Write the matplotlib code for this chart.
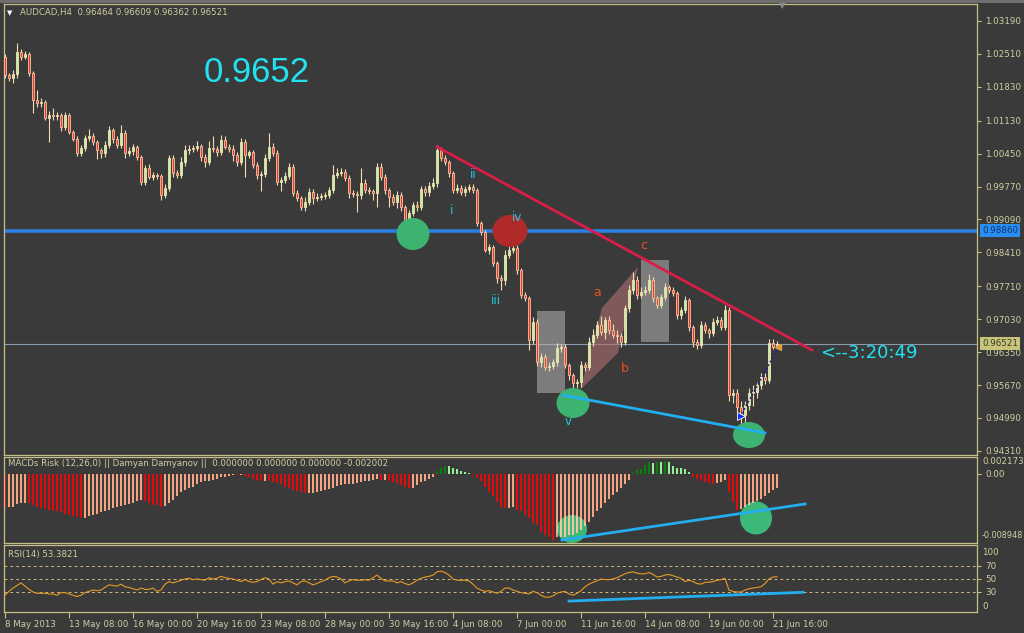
import matplotlib
matplotlib.use("Agg")
import matplotlib.pyplot as plt
import matplotlib.transforms as mtransforms
from matplotlib.patches import Ellipse, Rectangle, Polygon
import numpy as np

# ---- data ----
first_open = 1.0245
closes = [
    1.0208, 1.0201, 1.0210, 1.0255, 1.0245, 1.0251, 1.0212, 1.0156, 1.0150, 1.0152,
    1.0119, 1.0125, 1.0123, 1.0125, 1.0100, 1.0125, 1.0090, 1.0075, 1.0046, 1.0057,
    1.0077, 1.0081, 1.0069, 1.0053, 1.0046, 1.0063, 1.0094, 1.0075, 1.0063, 1.0088,
    1.0046, 1.0050, 1.0059, 1.0038, 0.9986, 1.0015, 0.9997, 1.0001, 0.9999, 0.9960,
    0.9974, 1.0036, 1.0005, 1.0001, 1.0028, 1.0053, 1.0055, 1.0057, 1.0061, 1.0038,
    1.0028, 1.0057, 1.0055, 1.0048, 1.0073, 1.0059, 1.0055, 1.0042, 1.0028, 1.0069,
    1.0042, 1.0048, 1.0022, 1.0001, 1.0003, 1.0036, 1.0059, 1.0046, 0.9986, 0.9991,
    0.9999, 1.0017, 0.9964, 0.9953, 0.9935, 0.9945, 0.9966, 0.9953, 0.9955, 0.9957,
    0.9960, 0.9970, 1.0001, 1.0005, 1.0007, 0.9995, 0.9964, 0.9962, 0.9960, 0.9984,
    0.9970, 0.9968, 0.9964, 1.0017, 0.9997, 0.9970, 0.9955, 0.9945, 0.9960, 0.9935,
    0.9891, 0.9922, 0.9939, 0.9935, 0.9972, 0.9966, 0.9978, 0.9984, 1.0053, 1.0036,
    1.0028, 1.0005, 0.9970, 0.9974, 0.9966, 0.9972, 0.9976, 0.9970, 0.9902, 0.9883,
    0.9846, 0.9852, 0.9819, 0.9788, 0.9784, 0.9836, 0.9846, 0.9850, 0.9805, 0.9753,
    0.9747, 0.9660, 0.9697, 0.9615, 0.9625, 0.9604, 0.9606, 0.9615, 0.9643, 0.9646,
    0.9608, 0.9588, 0.9571, 0.9573, 0.9608, 0.9604, 0.9656, 0.9670, 0.9691, 0.9677,
    0.9701, 0.9681, 0.9670, 0.9668, 0.9656, 0.9726, 0.9763, 0.9784, 0.9753, 0.9759,
    0.9763, 0.9784, 0.9747, 0.9732, 0.9749, 0.9770, 0.9763, 0.9757, 0.9712, 0.9722,
    0.9743, 0.9687, 0.9656, 0.9650, 0.9691, 0.9681, 0.9674, 0.9697, 0.9701, 0.9687,
    0.9722, 0.9546, 0.9550, 0.9522, 0.9505, 0.9526, 0.9550, 0.9553, 0.9567, 0.9583,
    0.9577, 0.9654, 0.96464, 0.96521,
]
# wick lengths above / below the body, in pips
wick_up = [
    6, 4, 8, 18, 6, 6, 4, 4, 20, 8, 4, 8, 14, 6, 4, 6, 4, 4, 6, 6,
    6, 14, 6, 4, 4, 8, 8, 4, 6, 16, 6, 8, 6, 4, 4, 6, 8, 6, 4, 4,
    8, 6, 6, 6, 10, 10, 8, 6, 10, 4, 6, 14, 24, 6, 10, 8, 6, 8, 6, 8,
    6, 4, 4, 6, 6, 8, 28, 8, 6, 6, 8, 8, 6, 6, 4, 10, 8, 6, 8, 6,
    6, 6, 20, 10, 8, 6, 6, 6, 6, 32, 8, 6, 4, 8, 8, 6, 4, 6, 8, 6,
    4, 6, 6, 8, 6, 6, 8, 10, 10, 6, 6, 4, 4, 8, 6, 6, 6, 6, 4, 4,
    4, 6, 4, 4, 6, 10, 20, 8, 6, 4, 6, 4, 10, 6, 8, 6, 8, 6, 10, 6,
    6, 4, 4, 6, 8, 6, 10, 12, 8, 18, 6, 8, 12, 10, 6, 6, 10, 16, 8, 10,
    8, 12, 6, 4, 6, 8, 4, 6, 4, 6, 8, 4, 4, 6, 8, 6, 4, 8, 8, 6,
    10, 6, 8, 8, 12, 8, 10, 14, 6, 8, 8, 8, 8, 6,
]
wick_dn = [
    6, 6, 10, 8, 6, 4, 6, 27, 8, 8, 4, 50, 8, 8, 8, 6, 4, 4, 6, 6,
    6, 6, 6, 20, 10, 8, 6, 8, 6, 6, 10, 6, 8, 6, 6, 6, 4, 6, 6, 10,
    6, 6, 8, 6, 6, 8, 8, 6, 6, 8, 10, 6, 6, 8, 6, 4, 6, 12, 8, 6,
    45, 6, 6, 8, 33, 6, 6, 6, 6, 18, 6, 6, 6, 6, 6, 8, 6, 12, 6, 6,
    6, 6, 6, 6, 6, 6, 10, 6, 35, 8, 6, 6, 14, 30, 6, 8, 20, 6, 12, 8,
    6, 12, 6, 8, 6, 8, 8, 6, 8, 6, 6, 8, 6, 6, 6, 8, 6, 6, 6, 6,
    4, 8, 6, 10, 20, 10, 6, 6, 8, 6, 6, 20, 8, 8, 10, 6, 8, 6, 8, 8,
    6, 10, 18, 10, 10, 8, 6, 8, 6, 6, 14, 8, 6, 14, 10, 6, 8, 8, 8, 6,
    6, 6, 8, 6, 6, 6, 6, 6, 8, 8, 6, 8, 10, 8, 6, 6, 10, 6, 6, 6,
    6, 12, 16, 10, 20, 20, 10, 26, 12, 8, 8, 6, 6, 6,
]
# MACDs Risk histogram, units of 1e-4
macd = [
    -50, -49, -48, -44, -42, -42, -43, -45, -48, -50,
    -51, -53, -54, -55, -56, -58, -60, -61, -63, -64,
    -64, -62, -60, -58, -56, -55, -53, -50, -48, -47,
    -45, -44, -42, -40, -38, -40, -43, -45, -46, -48,
    -47, -42, -38, -33, -27, -23, -20, -19, -15, -12,
    -11, -10, -9, -7, -5, -4, -2.5, -1.5, -2, -1.5,
    -3, -5, -7, -9, -10, -10, -11, -12, -13, -15,
    -19, -21, -23, -25, -27, -28, -28, -28, -27, -25,
    -24, -22, -20, -17, -16, -15, -15, -14, -13, -12,
    -11, -10, -9, -8, -9, -9, -10, -12, -14, -16,
    -19, -21, -20, -16, -12, -10, -7, -4, 5, 9,
    12, 11, 9, 7, 5, 3, 2, -1, -6, -11,
    -19, -26, -33, -41, -48, -50, -50, -48, -53, -55,
    -60, -65, -72, -75, -85, -89, -92, -97, -93, -92,
    -92, -89, -89, -87, -82, -77, -70, -63, -55, -50,
    -43, -36, -31, -26, -21, -14, -9, 1, 6, 8,
    13, 17, 16, 17, 17, 19, 18, 11, 9, 9,
    7, 3, -5, -7, -10, -12, -13, -14, -13, -12,
    -9, -26, -41, -53, -52, -49, -46, -43, -40, -36,
    -33, -28, -24, -21,
]
rsi = [
    25, 31, 36, 40, 44, 39, 34, 30, 28, 28,
    28, 27, 27, 25, 29, 29, 27, 25, 23, 25,
    29, 31, 33, 32, 33, 37, 41, 40, 39, 42,
    38, 37, 35, 33, 36, 34, 34, 36, 31, 33,
    42, 46, 44, 46, 48, 50, 51, 49, 50, 49,
    48, 52, 50, 51, 54, 52, 51, 50, 48, 46,
    49, 46, 45, 46, 49, 52, 50, 42, 46, 44,
    46, 47, 44, 41, 46, 47, 44, 41, 43, 46,
    48, 52, 54, 53, 50, 44, 47, 49, 48, 48,
    49, 48, 52, 56, 51, 47, 47, 47, 44, 46,
    43, 41, 44, 48, 51, 53, 54, 56, 61, 62,
    60, 56, 50, 48, 48, 48, 47, 42, 36, 33,
    31, 32, 30, 28, 31, 36, 36, 33, 31, 29,
    28, 27, 31, 29, 25, 22, 22, 24, 28, 30,
    31, 27, 25, 28, 32, 38, 42, 45, 47, 50,
    49, 49, 50, 52, 55, 58, 60, 61, 59, 58,
    58, 60, 57, 53, 54, 56, 57, 55, 53, 51,
    46, 48, 46, 43, 42, 45, 45, 46, 48, 49,
    51, 33, 31, 30, 30, 33, 35, 36, 37, 38,
    43, 50, 53, 53.38,
]
price_ticks = [1.03190, 1.02510, 1.01830, 1.01130, 1.00450, 0.99770, 0.99090,
               0.98410, 0.97710, 0.97030, 0.96350, 0.95670, 0.94990, 0.94310]
date_labels = ["8 May 2013", "13 May 08:00", "16 May 00:00", "20 May 16:00",
               "23 May 08:00", "28 May 00:00", "30 May 16:00", "4 Jun 08:00",
               "7 Jun 00:00", "11 Jun 16:00", "14 Jun 08:00", "19 Jun 00:00",
               "21 Jun 16:00"]
level_line = 0.98860
bid = 0.96521

# ---- colours ----
BG = "#3a3a3a"
FRAME = "#c4c088"
TXT = "#cfcfa2"
CYAN = "#22e2f0"
WAVE = "#22c8e0"
ORANGE = "#e8501e"
FS = 6.3

x = np.arange(len(closes))
closes_a = np.array(closes)
opens = np.array([first_open] + closes[:-1])
highs = np.maximum(opens, closes_a) + np.array(wick_up) * 1e-4
lows = np.minimum(opens, closes_a) - np.array(wick_dn) * 1e-4

fig = plt.figure(figsize=(10.24, 6.33), dpi=100, facecolor=BG)
fig.patches.append(Rectangle((0, 1 - 3 / 633), 1, 3 / 633, transform=fig.transFigure,
                             fc="#6e6e6e", ec="none"))


def panel(top, bottom):
    a = fig.add_axes([4 / 1024, 1 - bottom / 633, 973 / 1024, (bottom - top) / 633])
    a.set_facecolor(BG)
    for s in a.spines.values():
        s.set_color(FRAME)
        s.set_linewidth(0.9)
    a.set_xlim(-0.25, 243)
    a.set_xticks([])
    a.yaxis.tick_right()
    a.tick_params(axis="y", colors=FRAME, labelcolor=TXT, length=3, width=0.8,
                  pad=3, labelsize=FS)
    return a


ax = panel(4, 455)
axm = panel(457, 543)
axr = panel(545, 612)

# ---- main price panel ----
ax.set_ylim(0.94224, 1.03541)
ax.set_yticks(price_ticks)
ax.set_yticklabels([f"{p:.5f}" for p in price_ticks])

ax.axhline(level_line, color="#2a80e0", lw=2.6, zorder=2)
ax.axhline(bid, color="#8a9aae", lw=0.8, zorder=2)

up = closes_a >= opens
ax.vlines(x, lows, highs, color="#f3dcb0", lw=0.8, zorder=4)
body = np.maximum(np.abs(closes_a - opens), 0.00005)
ax.bar(x, body, bottom=np.minimum(opens, closes_a), width=0.74,
       color=np.where(up, "#c6eea0", "#ea3c28"),
       edgecolor=np.where(up, "#f0e6b4", "#f8c4a4"), lw=0.6, zorder=5)

# drawn objects
ax.add_patch(Rectangle((133, 0.95505), 7, 0.01694, fc="#b4b4b4", ec="none", alpha=0.55, zorder=3))
ax.add_patch(Rectangle((159, 0.96558), 7, 0.01694, fc="#b4b4b4", ec="none", alpha=0.55, zorder=3))
ax.add_patch(Polygon([(143.75, 0.95567), (149.25, 0.97261), (158.25, 0.98108), (153.25, 0.96331)],
                     fc="#b07070", ec="none", alpha=0.6, zorder=3))
ax.add_patch(Ellipse((102, 0.98790), 8.25, 0.00661, fc="#3cb371", ec="none", zorder=6))
ax.add_patch(Ellipse((126.25, 0.98852), 8.75, 0.00661, fc="#b02a2a", ec="none", zorder=6))
ax.add_patch(Ellipse((142, 0.95298), 8.25, 0.0062, fc="#3cb371", ec="none", zorder=6))
ax.add_patch(Ellipse((186, 0.94637), 8.0, 0.00537, fc="#3cb371", ec="none", zorder=6))
ax.plot([108, 201.75], [1.0059, 0.9639], color="#d81e48", lw=2.0, zorder=7)
ax.plot([139.5, 190], [0.9546, 0.9468], color="#22aef0", lw=2.0, zorder=7)
ax.plot([183.75, 193.25], [0.95009, 0.96434], color="#1a1ab0", lw=1.2, ls=(0, (1, 1.5)), zorder=7)
ax.plot([184], [0.95030], marker=">", color="#1030ff", ms=6, mec="white", mew=0.6, zorder=8)
ax.plot([193.3], [0.96450], marker="<", color="#e0a040", ms=5, zorder=8)

for t, xx, yy in [("i", 111.75, 0.99285), ("ii", 117, 1.0001), ("iii", 122.75, 0.97426),
                  ("iv", 128, 0.9914), ("v", 140.75, 0.94906)]:
    ax.text(xx, yy, t, color=WAVE, fontsize=8.5, ha="center", va="center", zorder=9)
for t, xx, yy in [("a", 148, 0.97591), ("b", 155, 0.96021), ("c", 159.75, 0.98542)]:
    ax.text(xx, yy, t, color=ORANGE, fontsize=9, ha="center", va="center", zorder=9)

ax.text(203.75, 0.96331, "<--3:20:49", color=CYAN, fontsize=13, ha="left", va="center", zorder=9)

# price boxes on the right scale
tr = mtransforms.blended_transform_factory(ax.transAxes, ax.transData)
ax.text(1.0055, level_line, f"{level_line:.5f}", transform=tr, ha="left", va="center",
        fontsize=FS, color="#0c3470", clip_on=False,
        bbox=dict(boxstyle="square,pad=0.22", fc="#2a8ef0", ec="none"))
ax.text(1.0055, bid, f"{bid:.5f}", transform=tr, ha="left", va="center",
        fontsize=FS, color="#3a3a28", clip_on=False,
        bbox=dict(boxstyle="square,pad=0.22", fc="#c8c47a", ec="none"))

fig.text(10 / 1024, 1 - 13 / 633, "\u25bc", color="white", fontsize=5, ha="center", va="center")
fig.text(20 / 1024, 1 - 13 / 633, "AUDCAD,H4  %.5f %.5f %.5f %.5f" % (0.96464, 0.96609, 0.96362, 0.96521),
         color=TXT, fontsize=6.2, ha="left", va="center")
fig.text(782 / 1024, 1 - 6 / 633, "\u25bc", color="#8c8c8c", fontsize=6, ha="center", va="center")
fig.text(257 / 1024, 1 - 73 / 633, "0.9652", color=CYAN, fontsize=25,
         family="Liberation Sans", ha="center", va="center")

# ---- MACD panel ----
mv = np.array(macd) * 1e-4
prev = np.concatenate([[mv[0] + 1e-6], mv[:-1]])
mcol = np.where(mv < 0, np.where(mv < prev, "#e00c0c", "#f6a582"),
                np.where(mv > prev, "#0a800a", "#98ee98"))
axm.set_ylim(-0.01012, 0.00249)
axm.bar(x, mv, width=0.74, color=mcol, zorder=2)
for cx, cy, w, h in [(141.75, -0.00807, 7.5, 0.00411), (187.75, -0.00645, 8.0, 0.00484)]:
    axm.add_patch(Ellipse((cx, cy), w, h, fc="#3cb878", ec="none", zorder=1))
    clip = Ellipse((cx, cy), w, h, transform=axm.transData)
    over = axm.bar(x, mv, width=0.74, color="#f2c6a0", zorder=3)
    for b in over:
        b.set_clip_path(clip)
axm.plot([139.25, 200], [-0.00968, -0.0044], color="#22aef0", lw=2.0, zorder=4)
axm.set_yticks([0])
axm.set_yticklabels(["0.00"])
trm = mtransforms.blended_transform_factory(axm.transAxes, axm.transData)
axm.text(1.0055, 0.00176, "0.002173", transform=trm, color=TXT, fontsize=FS, va="center", clip_on=False)
axm.text(1.0045, -0.00895, "-0.008948", transform=trm, color=TXT, fontsize=5.9, va="center", clip_on=False)
axm.text(4 / 973, 0.00160, "MACDs Risk (12,26,0) || Damyan Damyanov ||  0.000000 0.000000 0.000000 -0.002002",
         transform=trm, color=TXT, fontsize=6.2, va="center")

# ---- RSI panel ----
axr.set_ylim(-0.8, 102.3)
for lvl in (70, 50, 30):
    axr.axhline(lvl, color="#cdb878", lw=0.7, ls=(0, (3, 3)), zorder=1)
axr.plot(x, rsi, color="#e89a28", lw=0.8, zorder=3)
axr.plot([141, 199.5], [16, 29.5], color="#22aef0", lw=2.0, zorder=4)
axr.set_yticks([70, 50, 30])
axr.set_yticklabels(["70", "50", "30"])
trr = mtransforms.blended_transform_factory(axr.transAxes, axr.transData)
axr.text(1.0055, 90, "100", transform=trr, color=TXT, fontsize=FS, va="center", clip_on=False)
axr.text(1.0055, 7, "0", transform=trr, color=TXT, fontsize=FS, va="center", clip_on=False)
axr.text(4 / 973, 88, "RSI(14) %.4f" % 53.3821, transform=trr, color=TXT, fontsize=6.2, va="center")

axr.set_xticks(np.arange(0, 16 * len(date_labels), 16))
axr.set_xticklabels(date_labels)
axr.tick_params(axis="x", colors=FRAME, labelcolor=TXT, length=4, width=0.8, pad=2, labelsize=6.2)
for lbl in axr.get_xticklabels():
    lbl.set_ha("left")

fig.savefig("out.png", dpi=100, facecolor=BG)
